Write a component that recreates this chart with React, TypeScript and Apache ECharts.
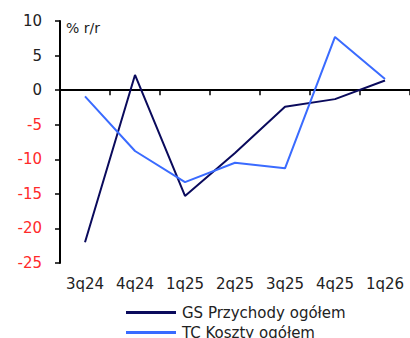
import React, { useEffect, useRef } from "react";
import * as echarts from "echarts";

const categories = ["3q24", "4q24", "1q25", "2q25", "3q25", "4q25", "1q26"];
const gsRevenue = [-22.0, 2.2, -15.3, -9.1, -2.4, -1.3, 1.4];
const tcCosts = [-0.9, -8.8, -13.3, -10.5, -11.3, 7.7, 1.6];
const seriesNames = ["GS Przychody ogółem", "TC Koszty ogółem"];
const unitLabel = "% r/r";

const FONT = "DejaVu Sans";
const NAVY = "#0a0a5c";
const BLUE = "#3a6bff";

export default function App() {
  const ref = useRef<HTMLDivElement>(null);
  useEffect(() => {
    if (!ref.current) return;
    const chart = echarts.init(ref.current, null, { renderer: "svg" });
    const legendBase = {
      orient: "horizontal",
      left: 121,
      itemWidth: 50,
      itemHeight: 3,
      icon: "rect",
      textStyle: { fontFamily: FONT, fontSize: 15, color: "#222", padding: [0, 0, 0, 1] },
    };
    chart.setOption({
      animation: false,
      grid: { left: 60, right: 0, top: 21, bottom: 75, containLabel: false },
      xAxis: [
        {
          type: "category",
          data: categories,
          position: "bottom",
          boundaryGap: true,
          axisLine: { show: false, onZero: false },
          axisTick: { show: false },
          axisLabel: { color: "#222", fontFamily: FONT, fontSize: 15, margin: 13 },
        },
        {
          type: "category",
          data: categories,
          position: "top",
          boundaryGap: true,
          axisLine: { show: true, onZero: true, lineStyle: { color: "#000", width: 2 } },
          axisTick: { show: true, inside: true, length: 5, lineStyle: { color: "#000", width: 1.5 } },
          axisLabel: { show: false },
        },
      ],
      yAxis: {
        type: "value",
        min: -25,
        max: 10,
        interval: 5,
        axisLine: { show: true, onZero: false, lineStyle: { color: "#000", width: 2 } },
        axisTick: { show: true, length: 5, lineStyle: { color: "#000", width: 1.5 } },
        splitLine: { show: false },
        axisLabel: {
          fontFamily: FONT,
          fontSize: 15,
          margin: 18,
          color: (v: any) => (Number(v) < 0 ? "#ff2a2a" : "#222"),
        },
      },
      legend: [
        { ...legendBase, top: 300, data: [seriesNames[0]] },
        { ...legendBase, top: 320, data: [seriesNames[1]] },
      ],
      graphic: [
        {
          type: "text",
          left: 66,
          top: 21,
          style: { text: unitLabel, fontFamily: FONT, fontSize: 14, fill: "#222" },
        },
      ],
      series: [
        {
          name: seriesNames[0],
          type: "line",
          xAxisIndex: 1,
          data: gsRevenue,
          symbol: "none",
          lineStyle: { color: NAVY, width: 2 },
          itemStyle: { color: NAVY },
        },
        {
          name: seriesNames[1],
          type: "line",
          xAxisIndex: 1,
          data: tcCosts,
          symbol: "none",
          lineStyle: { color: BLUE, width: 2 },
          itemStyle: { color: BLUE },
        },
      ],
    });
    return () => chart.dispose();
  }, []);
  return <div ref={ref} style={{ width: 410, height: 338, position: "absolute", left: 0, top: 0 }} />;
}
